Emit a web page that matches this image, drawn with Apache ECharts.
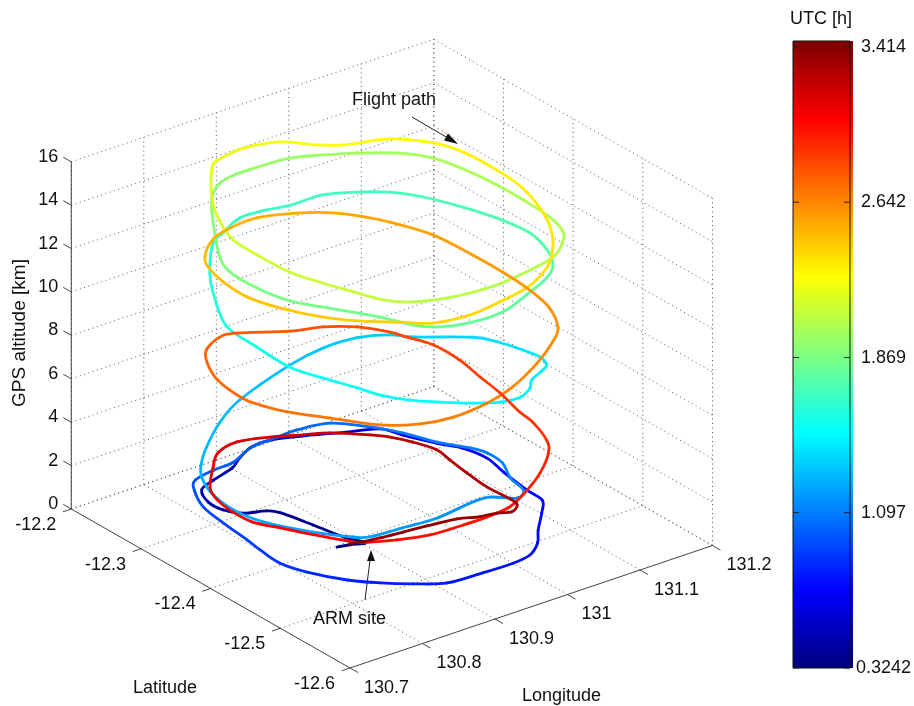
<!DOCTYPE html>
<html>
<head>
<meta charset="utf-8">
<style>html,body{margin:0;padding:0;background:#fff}#c{width:914px;height:706px}</style>
<script src="https://cdn.jsdelivr.net/npm/echarts@6/dist/echarts.min.js"></script>
</head>
<body>
<div id="c"></div>
<script>
// Flight legs are written line by line; the four arrays line up point by point.
const lon = [
130.859,130.874,130.890,130.880,130.872,130.862,130.853,130.829,130.817,130.816,130.829,130.854,130.888,130.910,130.937,130.964,131.009,131.042,131.076,
131.073,131.090,131.105,131.111,131.104,131.097,131.095,131.075,131.046,131.026,131.001,130.974,130.933,130.887,130.856,130.829,130.805,130.782,130.772,130.775,130.779,130.784,130.791,130.809,130.825,130.856,130.885,130.924,130.961,130.989,131.028,131.057,
131.053,131.069,131.089,131.096,131.094,131.078,131.071,131.053,131.031,131.005,130.954,130.909,130.867,130.852,130.825,130.799,130.790,130.795,130.811,130.830,130.829,130.844,130.863,
130.910,130.948,130.977,131.010,131.027,131.078,131.092,131.102,131.106,131.100,131.089,131.064,131.050,131.028,131.003,130.978,130.951,130.928,130.910,130.901,130.886,130.874,130.876,130.881,
130.862,130.865,130.881,
130.888,130.926,130.961,130.989,131.032,131.066,131.095,131.116,131.135,131.148,131.154,131.143,131.125,131.100,131.057,131.011,130.969,130.933,130.913,130.897,
130.883,130.862,130.843,130.834,130.835,130.849,130.848,130.843,130.851,
130.877,130.904,130.935,130.977,131.011,131.043,131.080,131.101,131.111,131.116,131.116,131.113,131.104,131.090,131.055,130.989,130.951,130.901,130.860,130.841,130.831,130.816,130.804,130.802,130.804,130.820,130.840,
130.838,130.851,
130.869,130.898,130.931,130.952,130.971,130.991,131.009,131.044,131.075,131.087,131.089,131.084,131.064,131.041,131.016,
131.018,130.971,130.920,
130.912,130.867,130.840,130.805,130.781,130.758,130.746,130.748,130.758,130.770,
130.862,130.890,130.940,130.982,131.014,131.034,131.049,131.067,131.071,131.071,131.067,131.057,131.034,
131.041,131.028,
131.004,130.957,130.907,130.868,130.831,130.799,130.771,130.758,130.753,130.759,130.776,130.795,130.826,130.847,130.896,130.931,130.960,130.981,130.988,130.999,130.999,130.991,130.984,
131.038,131.067,131.101,131.116,
131.111,131.074,131.034,130.999,130.966,130.922,130.886,130.859,130.845,130.821,130.803,130.788,130.786,130.791,130.803,130.837,130.863,130.896,130.932,130.964,130.990,131.022,131.036,131.048,131.057,131.053,131.048,131.044,131.046,131.043,131.028,131.013,130.990,130.970,130.933,130.903,130.874,130.853,130.839
];
const lat = [
-12.416,-12.419,-12.424,-12.403,-12.368,-12.331,-12.321,-12.312,-12.296,-12.276,-12.253,-12.244,-12.235,-12.223,-12.212,-12.211,-12.226,-12.239,-12.252,
-12.288,-12.319,-12.340,-12.369,-12.400,-12.441,-12.465,-12.485,-12.510,-12.530,-12.545,-12.549,-12.548,-12.545,-12.528,-12.509,-12.487,-12.453,-12.424,-12.393,-12.370,-12.331,-12.295,-12.263,-12.248,-12.242,-12.240,-12.226,-12.224,-12.223,-12.230,-12.257,
-12.308,-12.341,-12.368,-12.385,-12.409,-12.437,-12.463,-12.472,-12.456,-12.455,-12.461,-12.458,-12.455,-12.446,-12.417,-12.378,-12.345,-12.305,-12.272,-12.251,-12.260,-12.263,-12.272,
-12.295,-12.303,-12.322,-12.335,-12.351,-12.383,-12.403,-12.430,-12.450,-12.466,-12.472,-12.482,-12.494,-12.503,-12.500,-12.487,-12.468,-12.449,-12.425,-12.401,-12.367,-12.332,-12.283,-12.235,
-12.238,-12.227,-12.215,
-12.222,-12.207,-12.209,-12.214,-12.215,-12.229,-12.247,-12.272,-12.309,-12.345,-12.386,-12.422,-12.449,-12.466,-12.482,-12.496,-12.496,-12.486,-12.469,-12.439,
-12.420,-12.392,-12.365,-12.327,-12.287,-12.258,-12.252,-12.253,-12.245,
-12.228,-12.222,-12.222,-12.225,-12.238,-12.253,-12.276,-12.301,-12.335,-12.378,-12.416,-12.457,-12.484,-12.500,-12.522,-12.534,-12.536,-12.530,-12.515,-12.496,-12.474,-12.440,-12.405,-12.361,-12.324,-12.289,-12.258,
-12.257,-12.246,
-12.240,-12.236,-12.241,-12.251,-12.270,-12.283,-12.289,-12.300,-12.329,-12.359,-12.406,-12.448,-12.499,-12.535,-12.562,
-12.552,-12.573,-12.582,
-12.552,-12.545,-12.526,-12.501,-12.477,-12.440,-12.405,-12.368,-12.336,-12.319,
-12.231,-12.220,-12.216,-12.230,-12.249,-12.271,-12.294,-12.337,-12.390,-12.433,-12.476,-12.515,-12.551,
-12.536,-12.527,
-12.517,-12.529,-12.533,-12.526,-12.506,-12.469,-12.436,-12.411,-12.390,-12.349,-12.316,-12.295,-12.282,-12.285,-12.310,-12.321,-12.339,-12.365,-12.382,-12.408,-12.446,-12.484,-12.520,
-12.492,-12.480,-12.465,-12.452,
-12.445,-12.465,-12.482,-12.486,-12.486,-12.484,-12.474,-12.463,-12.454,-12.421,-12.393,-12.369,-12.342,-12.315,-12.292,-12.261,-12.241,-12.234,-12.244,-12.258,-12.269,-12.294,-12.308,-12.328,-12.353,-12.376,-12.406,-12.439,-12.470,-12.483,-12.491,-12.485,-12.481,-12.473,-12.468,-12.465,-12.462,-12.459,-12.455
];
const alt = [
.4,.4,.4,.4,.4,.4,.4,.4,.4,.4,.4,.4,.4,.4,.4,.4,.4,.4,.4,
.8,.8,.8,.8,.8,.8,.8,.8,.8,.8,.8,.8,.8,.8,.8,.8,.8,.8,.8,.8,.8,.8,.8,.8,.8,.8,.8,.8,.8,.8,.8,.8,
1.5,1.5,1.5,1.5,1.5,1.5,1.5,1.5,1.5,1.5,1.5,1.5,1.5,1.5,1.5,1.5,1.5,1.5,1.5,1.5,2.5,3.5,4.5,
6,6.5,7,7,7,7,7,7,7,7,7,7,7,7,7,7,7,7,7,7,7,7,7,7,
8.5,9.5,10.5,
11,11,11,11,11,11,11,11,11,11,11,11,11,11,11,11,11,11,11,11,
11,11,11,11,11,11,12,13,13.5,
13.5,13.5,13.5,13.5,13.5,13.5,13.5,13.5,13.5,13.5,13.5,13.5,13.5,13.5,13.5,13.5,13.5,13.5,13.5,13.5,13.5,13.5,13.5,13.5,13.5,13.5,13.5,
14.5,15,
15,15,15,15,15,15,15,15,15,15,15,15,15,15,15,
14,14,14,
13,13,13,13,13,13,13,13,13,13,
11,11,11,11,11,11,11,11,11,11,11,11,11,
10,9,
8,8,8,8,8,8,8,8,8,8,8,8,8,8,8,8,8,8,8,8,8,8,8,
6,5,3.5,2.5,
1.5,1.5,1.5,1.5,1.5,1.5,1.5,1.5,1.5,1.5,1.5,1.5,1.5,1.5,1.5,1.5,1.5,1.5,1.5,1.5,1.5,1.5,1.5,1.5,1.5,1.5,1.5,1.5,1.5,1.5,1.5,1.5,1.5,1.5,1.5,1.5,1.5,1.5,1.5
];
const utc = [
.33,.33,.34,.36,.38,.40,.42,.44,.46,.47,.48,.49,.50,.51,.52,.53,.56,.59,.62,
.64,.66,.68,.69,.70,.71,.72,.73,.74,.75,.76,.77,.78,.79,.80,.81,.83,.85,.87,.89,.90,.93,.95,.97,.98,.99,1.00,1.01,1.02,1.03,1.05,1.07,
1.08,1.09,1.10,1.11,1.12,1.13,1.14,1.15,1.16,1.17,1.18,1.19,1.20,1.21,1.22,1.23,1.24,1.25,1.26,1.27,1.28,1.29,1.30,
1.32,1.33,1.34,1.35,1.37,1.39,1.40,1.42,1.43,1.44,1.45,1.46,1.46,1.47,1.48,1.49,1.50,1.51,1.52,1.53,1.54,1.55,1.57,1.59,
1.61,1.63,1.65,
1.66,1.67,1.675,1.68,1.69,1.70,1.71,1.72,1.73,1.74,1.75,1.76,1.77,1.78,1.79,1.80,1.81,1.82,1.83,1.84,
1.85,1.86,1.87,1.88,1.89,1.90,1.91,1.92,1.93,
1.94,1.95,1.96,1.97,1.98,1.99,2.00,2.01,2.02,2.02,2.03,2.03,2.03,2.04,2.04,2.05,2.06,2.07,2.08,2.09,2.10,2.11,2.12,2.13,2.14,2.15,2.16,
2.18,2.20,
2.22,2.23,2.24,2.25,2.26,2.27,2.28,2.29,2.30,2.31,2.32,2.33,2.34,2.35,2.36,
2.37,2.38,2.39,
2.40,2.41,2.42,2.43,2.44,2.45,2.46,2.47,2.48,2.49,
2.50,2.51,2.52,2.53,2.54,2.55,2.56,2.57,2.58,2.59,2.60,2.61,2.62,
2.63,2.64,
2.65,2.66,2.67,2.68,2.69,2.70,2.71,2.72,2.73,2.74,2.75,2.76,2.77,2.78,2.80,2.81,2.82,2.83,2.84,2.85,2.86,2.87,2.88,
2.89,2.91,2.93,2.95,
2.97,2.98,2.99,3.00,3.01,3.02,3.03,3.04,3.05,3.06,3.07,3.08,3.09,3.10,3.11,3.13,3.15,3.17,3.19,3.21,3.23,3.25,3.26,3.27,3.28,3.29,3.30,3.31,3.33,3.34,3.35,3.36,3.37,3.38,3.39,3.40,3.405,3.41,3.414
];

const lonTicks = [130.7,130.8,130.9,131,131.1,131.2];
const latTicks = [-12.2,-12.3,-12.4,-12.5,-12.6];
const altTicks = [0,2,4,6,8,10,12,14,16];
const colorbarTicks = [0.3242,1.097,1.869,2.642,3.414];
const jet = ['#00007f','#0000ff','#007fff','#00ffff','#7fff7f','#ffff00','#ff7f00','#ff0000','#7f0000'];

const LON0=130.7, LON1=131.2, LAT0=-12.6, LAT1=-12.2, ALT1=16;
const FAMILY='"Liberation Sans", Arial, sans-serif';
const FONT='18px '+FAMILY;

// Oblique projection of (longitude, latitude, altitude) onto the page plane.
function proj(lo,la,z){
  return [350+725*(lo-LON0)-696.75*(la-LAT0), 668-245*(lo-LON0)-397.5*(la-LAT0)-21.7*z];
}
function seg(a,b){ const p=proj(a[0],a[1],a[2]), q=proj(b[0],b[1],b[2]); return [p[0],p[1],q[0],q[1]]; }

// Dotted box grid
const gridRows=[];
lonTicks.forEach(v=>{
  if(v>LON0) gridRows.push(seg([v,LAT0,0],[v,LAT1,0]));
  gridRows.push(seg([v,LAT1,0],[v,LAT1,ALT1]));
});
latTicks.forEach(v=>{
  if(v>LAT0) gridRows.push(seg([LON0,v,0],[LON1,v,0]));
  gridRows.push(seg([LON1,v,0],[LON1,v,ALT1]));
});
altTicks.forEach(v=>{
  gridRows.push(seg([LON0,LAT1,v],[LON1,LAT1,v]));
  gridRows.push(seg([LON1,LAT1,v],[LON1,LAT0,v]));
});

// Solid axis lines and outward ticks
const axisRows=[
  seg([LON0,LAT1,0],[LON0,LAT0,0]),
  seg([LON0,LAT0,0],[LON1,LAT0,0]),
  seg([LON0,LAT1,0],[LON0,LAT1,ALT1])
];
const TL=0.0115;
lonTicks.forEach(v=>axisRows.push(seg([v,LAT0,0],[v,LAT0-TL,0])));
latTicks.forEach(v=>axisRows.push(seg([LON0,v,0],[LON0-TL,v,0])));
altTicks.forEach(v=>axisRows.push(seg([LON0,LAT1,v],[LON0,LAT1+TL,v])));

// Tick labels: anchor at the tick root, then a text offset
const labelRows=[];
lonTicks.forEach(v=>{const p=proj(v,LAT0,0);labelRows.push({p,t:String(v),dx:14,dy:20,a:'left'});});
latTicks.forEach(v=>{const p=proj(LON0,v,0);labelRows.push({p,t:v.toFixed(1),dx:-15,dy:16,a:'right'});});
altTicks.forEach(v=>{const p=proj(LON0,LAT1,v);labelRows.push({p,t:String(v),dx:-13,dy:-5,a:'right'});});

const flightRows=lon.map((v,i)=>{const p=proj(v,lat[i],alt[i]);return [p[0],p[1],utc[i]];});

function lineItem(params,api){
  const a=api.coord([api.value(0),api.value(1)]), b=api.coord([api.value(2),api.value(3)]);
  return {a,b};
}

const chart=echarts.init(document.getElementById('c'),null,{renderer:'canvas'});
chart.setOption({
  animation:false,
  backgroundColor:'#fff',
  grid:[
    {left:0,top:0,width:914,height:706,show:false},
    {left:793,top:41,width:60,height:627,show:true,backgroundColor:'transparent',borderColor:'#111',borderWidth:1,z:6}
  ],
  xAxis:[
    {gridIndex:0,type:'value',min:0,max:914,show:false},
    {gridIndex:1,type:'value',min:0,max:1,show:false}
  ],
  yAxis:[
    {gridIndex:0,type:'value',min:0,max:706,inverse:true,show:false},
    {gridIndex:1,type:'value',min:0.3242,max:3.444,position:'right',z:7,
      splitLine:{show:false},axisLine:{show:false},axisTick:{show:false},
      axisLabel:{show:true,margin:33.5,align:'center',padding:[4,0,0,0],color:'#111',fontSize:18,fontFamily:FAMILY,
        customValues:colorbarTicks,formatter:v=>String(v)}}
  ],
  visualMap:{
    type:'continuous',show:false,seriesIndex:2,dimension:2,
    min:0.3242,max:3.444,inRange:{color:jet}
  },
  series:[
    {type:'custom',name:'grid',silent:true,clip:false,xAxisIndex:0,yAxisIndex:0,z:1,
      data:gridRows,encode:{x:0,y:1},
      renderItem(params,api){
        const {a,b}=lineItem(params,api);
        return {type:'line',shape:{x1:a[0],y1:a[1],x2:b[0],y2:b[1]},
          style:{stroke:'#555',lineWidth:1,lineDash:[1,3.5],fill:null}};
      }},
    {type:'custom',name:'axes',silent:true,clip:false,xAxisIndex:0,yAxisIndex:0,z:2,
      data:axisRows,encode:{x:0,y:1},
      renderItem(params,api){
        const {a,b}=lineItem(params,api);
        return {type:'line',shape:{x1:a[0],y1:a[1],x2:b[0],y2:b[1]},
          style:{stroke:'#444',lineWidth:1,fill:null}};
      }},
    {type:'custom',name:'Flight path',silent:true,clip:false,xAxisIndex:0,yAxisIndex:0,z:3,
      data:flightRows,encode:{x:0,y:1},
      renderItem(params,api){
        const i=params.dataIndex, n=flightRows.length;
        if(i>=n-1) return null;
        const P=k=>api.coord(flightRows[Math.max(0,Math.min(n-1,k))].slice(0,2));
        const p0=P(i-1),p1=P(i),p2=P(i+1),p3=P(i+2);
        return {type:'bezierCurve',
          shape:{x1:p1[0],y1:p1[1],x2:p2[0],y2:p2[1],
            cpx1:p1[0]+(p2[0]-p0[0])/6,cpy1:p1[1]+(p2[1]-p0[1])/6,
            cpx2:p2[0]-(p3[0]-p1[0])/6,cpy2:p2[1]-(p3[1]-p1[1])/6},
          style:{stroke:api.visual('color'),lineWidth:2.8,lineCap:'round',fill:'none'}};
      }},
    {type:'custom',name:'tick labels',silent:true,clip:false,xAxisIndex:0,yAxisIndex:0,z:4,
      data:labelRows.map(r=>[r.p[0],r.p[1]]),encode:{x:0,y:1},
      renderItem(params,api){
        const r=labelRows[params.dataIndex], a=api.coord([api.value(0),api.value(1)]);
        return {type:'text',style:{x:a[0]+r.dx,y:a[1]+r.dy,text:r.t,font:FONT,fill:'#111',
          textAlign:r.a,textVerticalAlign:'middle',align:r.a,verticalAlign:'middle'}};
      }},
    {type:'custom',name:'colorbar ticks',silent:true,clip:false,xAxisIndex:1,yAxisIndex:1,z:8,
      data:colorbarTicks.map(v=>[0,v]),encode:{x:0,y:1},
      renderItem(params,api){
        const l=api.coord([0,api.value(1)]), r=api.coord([1,api.value(1)]);
        const st={stroke:'#222',lineWidth:1,fill:null};
        return {type:'group',children:[
          {type:'line',shape:{x1:l[0],y1:l[1],x2:l[0]+6,y2:l[1]},style:st},
          {type:'line',shape:{x1:r[0]-6,y1:r[1],x2:r[0],y2:r[1]},style:st}
        ]};
      }}
  ],
  graphic:[
    {type:'rect',z:0,shape:{x:793,y:41,width:60,height:627},
      style:{fill:new echarts.graphic.LinearGradient(0,1,0,0,jet.map((c,i)=>({offset:i/(jet.length-1),color:c})))}},
    {type:'text',left:133,top:679,style:{text:'Latitude',font:FONT,fill:'#111'}},
    {type:'text',left:522,top:687,style:{text:'Longitude',font:FONT,fill:'#111'}},
    {type:'text',x:20,y:333,rotation:Math.PI/2,style:{text:'GPS altitude [km]',font:'19px '+FAMILY,fill:'#111',align:'center',verticalAlign:'middle'}},
    {type:'text',left:790,top:10,style:{text:'UTC [h]',font:FONT,fill:'#111'}},
    {type:'text',left:352,top:91,style:{text:'Flight path',font:FONT,fill:'#111'}},
    {type:'text',left:313,top:610,style:{text:'ARM site',font:FONT,fill:'#111'}},
    {type:'line',shape:{x1:412,y1:117,x2:447,y2:137.5},style:{stroke:'#222',lineWidth:1}},
    {type:'polygon',shape:{points:[[458,144],[444,140.4],[448,133.6]]},style:{fill:'#111'}},
    {type:'line',shape:{x1:365,y1:600,x2:370,y2:560},style:{stroke:'#222',lineWidth:1}},
    {type:'polygon',shape:{points:[[371,550],[367,561],[375,561]]},style:{fill:'#111'}}
  ]
});
</script>
</body>
</html>
